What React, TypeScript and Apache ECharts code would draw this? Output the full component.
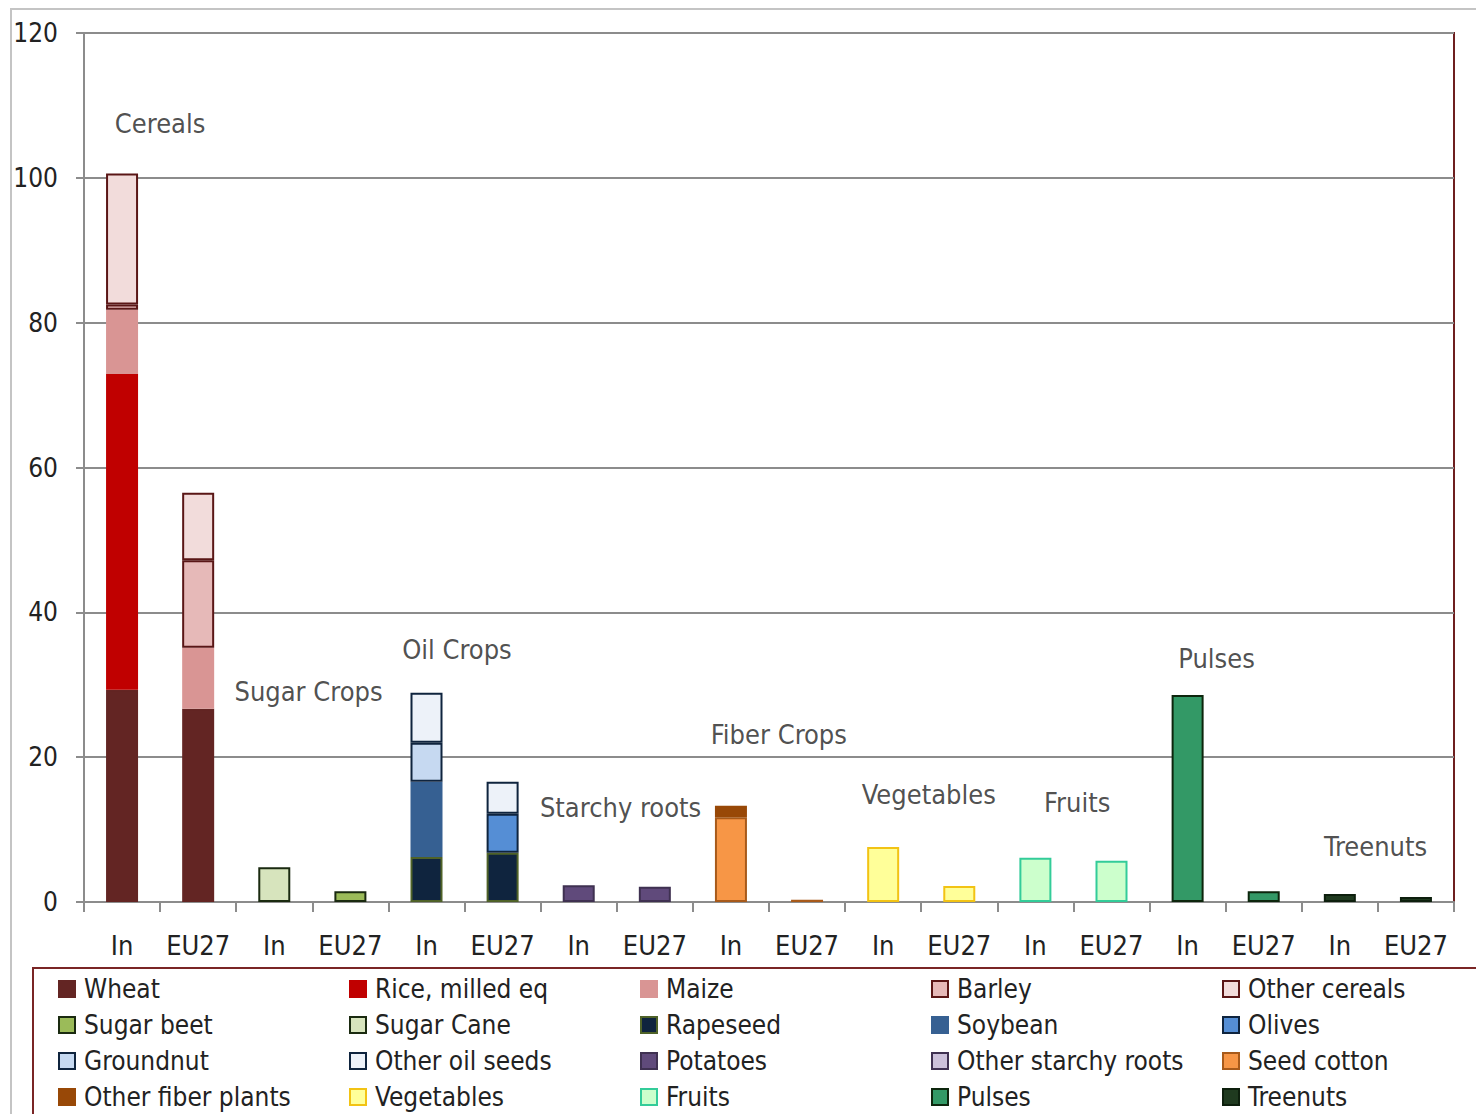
import React, { useEffect, useRef } from "react";
import * as echarts from "echarts";

// Crop groups along the x axis, each with an "In" and an "EU27" bar
const groups = ["Cereals", "Sugar Crops", "Oil Crops", "Starchy roots", "Fiber Crops", "Vegetables", "Fruits", "Pulses", "Treenuts"];
const regions = ["In", "EU27"];

// Where each group caption sits (x in category units, y in axis units)
const groupLabelX = [0.5, 2.45, 4.4, 6.55, 8.63, 10.6, 12.55, 14.38, 16.47];
const groupLabelY = [107.5, 29.1, 34.8, 13.0, 23.1, 14.8, 13.8, 33.6, 7.7];

// Crop names in stacking / legend order
const cropNames = [
  "Wheat", "Rice, milled eq", "Maize", "Barley", "Other cereals",
  "Sugar beet", "Sugar Cane", "Rapeseed", "Soybean", "Olives",
  "Groundnut", "Other oil seeds", "Potatoes", "Other starchy roots", "Seed cotton",
  "Other fiber plants", "Vegetables", "Fruits", "Pulses", "Treenuts",
];
// Index into groups for each crop
const cropGroup = [0, 0, 0, 0, 0, 1, 1, 2, 2, 2, 2, 2, 3, 3, 4, 4, 5, 6, 7, 8];
// Values for [In, EU27]
const cropInValues = [29.3, 43.6, 8.9, 0.7, 18.1, null, 4.8, 6.2, 10.4, null, 5.4, 6.9, 2.3, null, 11.7, 1.6, 7.6, 6.1, 28.6, 1.1];
const cropEuValues = [26.7, null, 8.4, 12.1, 9.3, 1.5, null, 6.8, null, 5.4, null, 4.4, 2.1, null, 0.3, null, 2.2, 5.7, 1.5, 0.7];

const fillColors = [
  "#632523", "#c00000", "#d99594", "#e6b9b8", "#f2dcdb",
  "#9bbb59", "#d7e4bd", "#0f243e", "#366092", "#558ed5",
  "#c6d9f1", "#edf2f9", "#604a7b", "#ccc1da", "#f79646",
  "#984807", "#ffff99", "#ccffcc", "#339966", "#1f3a1f",
];
const borderColors = [
  "#632523", "#c00000", "#d99594", "#5a1616", "#5a1616",
  "#1a2a10", "#1a2a10", "#4f6228", "#366092", "#0f243e",
  "#0f243e", "#0f243e", "#3f3151", "#3f3151", "#a85a1a",
  "#984807", "#f2c314", "#33cc99", "#0d260d", "#0d1f0d",
];

const yTicks = { min: 0, max: 120, interval: 20 };
const FONT = "'Liberation Sans Narrow', 'DejaVu Sans Condensed', 'Open Sans', sans-serif";

const categories = groups.flatMap((g) => regions.map((r) => `${g}|${r}`));

export default function App() {
  const ref = useRef<HTMLDivElement>(null);

  useEffect(() => {
    const chart = echarts.init(ref.current!, null, { renderer: "svg" });

    const barSeries = cropNames.map((name, ci) => ({
      name,
      type: "bar",
      stack: "total",
      barWidth: 32,
      xAxisIndex: 0,
      yAxisIndex: 0,
      data: categories.map((_, i) => {
        if (Math.floor(i / 2) !== cropGroup[ci]) return "-";
        const v = i % 2 === 0 ? cropInValues[ci] : cropEuValues[ci];
        return v == null ? "-" : v;
      }),
      itemStyle: { color: fillColors[ci], borderColor: borderColors[ci], borderWidth: 2 },
    }));

    const groupLabelSeries = {
      type: "scatter",
      xAxisIndex: 1,
      yAxisIndex: 0,
      symbolSize: 0,
      silent: true,
      data: groups.map((g, i) => ({ name: g, value: [groupLabelX[i], groupLabelY[i]] })),
      label: {
        show: true,
        position: "inside",
        formatter: "{b}",
        fontFamily: FONT,
        fontSize: 27,
        color: "#222",
      },
    };

    chart.setOption({
      animation: false,
      backgroundColor: "#fff",
      grid: {
        left: 84,
        top: 33,
        right: 22,
        bottom: 212,
        show: true,
        borderColor: "#6e1f1f",
        borderWidth: 2,
      },
      xAxis: [
        {
          type: "category",
          data: categories,
          axisLine: { lineStyle: { color: "#8c8c8c", width: 2 } },
          axisTick: { show: true, interval: 0, length: 10, lineStyle: { color: "#8c8c8c", width: 2 } },
          axisLabel: {
            interval: 0,
            margin: 30,
            fontFamily: FONT,
            fontSize: 27,
            color: "#222",
            formatter: (v: string) => v.split("|")[1],
          },
        },
        { type: "value", min: -0.5, max: 17.5, show: false },
      ],
      yAxis: {
        type: "value",
        ...yTicks,
        axisLine: { show: true, onZero: false, lineStyle: { color: "#8c8c8c", width: 2 } },
        axisTick: { show: true, length: 8, lineStyle: { color: "#8c8c8c", width: 2 } },
        splitLine: { lineStyle: { color: "#8c8c8c", width: 2 } },
        axisLabel: { margin: 26, fontFamily: FONT, fontSize: 26, color: "#222" },
      },
      legend: {
        data: cropNames,
        orient: "horizontal",
        left: 58,
        top: 971,
        padding: 0,
        width: 1460,
        itemGap: 0,
        itemWidth: 16,
        itemHeight: 16,
        icon: "rect",
        textStyle: {
          fontFamily: FONT,
          fontSize: 26,
          color: "#222",
          width: 265,
          lineHeight: 36,
          padding: [0, 0, 0, 4],
        },
      },
      graphic: [
        {
          type: "rect",
          shape: { x: 11, y: 9, width: 1500, height: 1200 },
          style: { fill: "none", stroke: "#c4c4c4", lineWidth: 2 },
          silent: true,
          z: -1,
        },
        {
          type: "rect",
          shape: { x: 33, y: 968, width: 1500, height: 200 },
          style: { fill: "none", stroke: "#7a2525", lineWidth: 2 },
          silent: true,
        },
      ],
      series: [...barSeries, groupLabelSeries],
    });

    return () => chart.dispose();
  }, []);

  return (
    <div
      ref={ref}
      style={{ position: "fixed", left: 0, top: 0, width: 1476, height: 1114, background: "#fff" }}
    />
  );
}
